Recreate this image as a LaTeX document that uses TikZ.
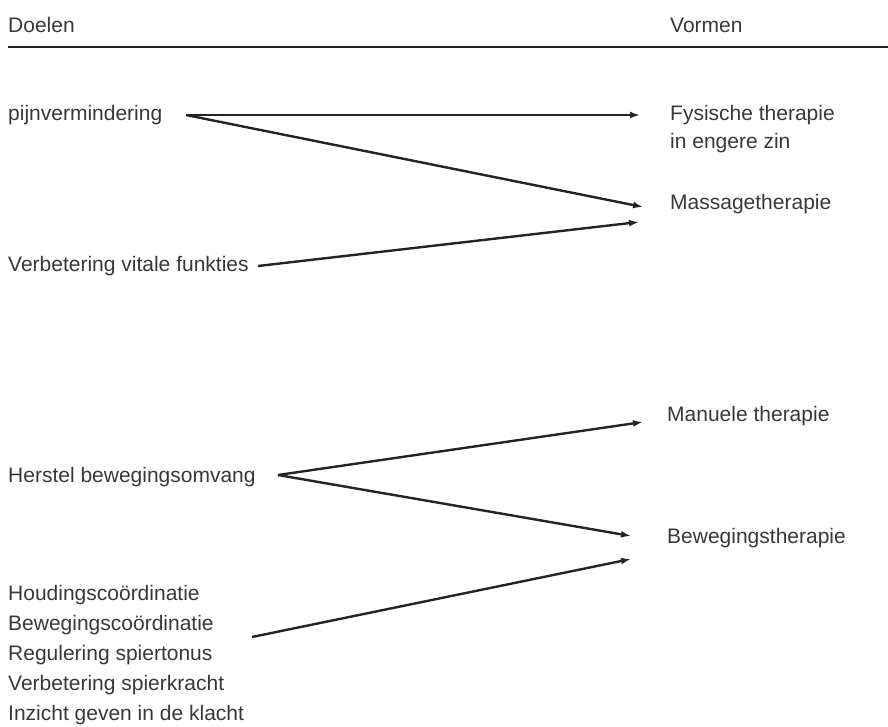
\documentclass[tikz,border=0pt]{standalone}
\usepackage{fontspec}
\setmainfont{Liberation Sans}
\usepackage{tikz}
\usetikzlibrary{arrows.meta}

\definecolor{tekst}{HTML}{383838}
\definecolor{lijn}{HTML}{242424}

\begin{document}
\begin{tikzpicture}[
			x=1pt, y=-1pt,
			every node/.style = {anchor=base west, inner sep=0pt, text=tekst,
				font=\fontsize{21}{30}\selectfont},
			lijst/.style = {align=left},
			pijl/.style = {draw=lijn, line width=2.4pt,
				-{Latex[length=10pt,width=7pt]}}
			]
			\useasboundingbox (0,0) rectangle (888,726);
			
			% Kop
			\node (doelen) at (8,32) {Doelen};
			\node (vormen) at (670,32) {Vormen};
			\coordinate (kopL) at (8,47);
			\coordinate (kopR) at (888,47);
			\draw[lijn, line width=2.4pt] (kopL) -- (kopR);
			
			% Doelen (links)
			\node (pijn) at (8,120) {pijnvermindering};
			\node (vitaal) at (8,271) {Verbetering vitale funkties};
			\node (herstel) at (8,482) {Herstel bewegingsomvang};
			\node[lijst] (coord) at (8,720) {Houdingsco\"ordinatie\\
				Bewegingsco\"ordinatie\\ Regulering spiertonus\\
				Verbetering spierkracht\\ Inzicht geven in de klacht};
			
			% Vormen (rechts)
			\node[lijst, font=\fontsize{21}{28}\selectfont] (fysisch) at (670,148)
				{Fysische therapie\\ in engere zin};
			\node (massage) at (670,209) {Massagetherapie};
			\node (manueel) at (667,421) {Manuele therapie};
			\node (beweging) at (667,543) {Bewegingstherapie};
			
			% Aanhechtpunten
			\coordinate (pijnR) at (186,115);
			\coordinate (vitaalR) at (258,266);
			\coordinate (herstelR) at (278,475);
			\coordinate (coordR) at (252,637);
			\coordinate (fysischL) at (640,115);
			\coordinate (massageL1) at (643,207);
			\coordinate (massageL2) at (639,222);
			\coordinate (manueelL) at (643,422);
			\coordinate (bewegingL1) at (631,536);
			\coordinate (bewegingL2) at (631,559);
			
			% Pijlen
			\draw[pijl] (pijnR) -- (fysischL);
			\draw[pijl] (pijnR) -- (massageL1);
			\draw[pijl] (vitaalR) -- (massageL2);
			\draw[pijl] (herstelR) -- (manueelL);
			\draw[pijl] (herstelR) -- (bewegingL1);
			\draw[pijl] (coordR) -- (bewegingL2);
			
		\end{tikzpicture}
\end{document}
